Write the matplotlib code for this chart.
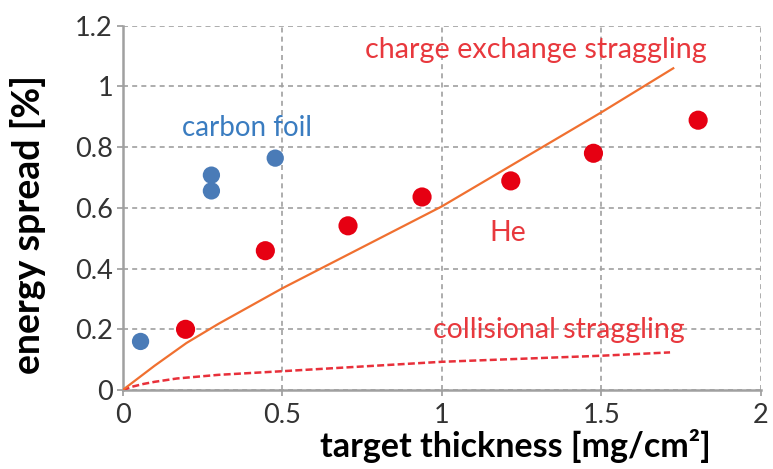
import matplotlib
matplotlib.use('Agg')
import matplotlib.pyplot as plt

plt.rcParams['font.family'] = ['Lato', 'DejaVu Sans']

# carbon foil measurements
carbon_x = [0.056, 0.278, 0.278, 0.478]
carbon_y = [0.160, 0.708, 0.656, 0.764]

# He gas target measurements
he_x = [0.197, 0.447, 0.706, 0.938, 1.216, 1.475, 1.803]
he_y = [0.200, 0.459, 0.541, 0.636, 0.689, 0.780, 0.889]

# charge exchange straggling (calc.)
cx_x = [0.0, 0.1, 0.2, 0.3, 0.5, 0.75, 1.0, 1.25, 1.5, 1.725]
cx_y = [0.0, 0.08, 0.155, 0.218, 0.335, 0.47, 0.605, 0.76, 0.915, 1.06]

# collisional straggling (calc.)
col_x = [0.0, 0.03, 0.065, 0.1, 0.17, 0.3, 0.5, 1.0, 1.5, 1.715]
col_y = [0.0, 0.011, 0.020, 0.027, 0.038, 0.050, 0.062, 0.093, 0.113, 0.124]

x_ticks = [0, 0.5, 1, 1.5, 2]
y_ticks = [0, 0.2, 0.4, 0.6, 0.8, 1.0, 1.2]
x_ticklabels = ['0', '0.5', '1', '1.5', '2']
y_ticklabels = ['0', '0.2', '0.4', '0.6', '0.8', '1', '1.2']

fig = plt.figure(figsize=(7.73, 4.69), dpi=100)
ax = fig.add_axes([0.1587, 0.1684, 0.8258, 0.7766])

ax.plot(col_x, col_y, color='#e8303a', linewidth=1.8, linestyle=(0, (2.8, 1.3)), zorder=3)
ax.plot(cx_x, cx_y, color='#f07030', linewidth=1.6, zorder=3)
ax.scatter(carbon_x, carbon_y, s=155, color='#4a7bb7', edgecolors='none', zorder=4)
ax.scatter(he_x, he_y, s=190, color='#e60012', edgecolors='none', zorder=4)

ax.set_xlim(0, 2)
ax.set_ylim(0, 1.2)
ax.set_xticks(x_ticks)
ax.set_xticklabels(x_ticklabels)
ax.set_yticks(y_ticks)
ax.set_yticklabels(y_ticklabels)
ax.tick_params(axis='both', labelsize=19.5, labelcolor='#333333', color='#999999',
               length=4, width=1.2, direction='out')
ax.tick_params(axis='x', pad=5)
ax.tick_params(axis='y', pad=3)

ax.grid(True, color='#a0a0a0', linestyle=(0, (3, 2.5)), linewidth=1.2)
ax.set_axisbelow(True)
for side in ['top', 'right']:
    ax.spines[side].set_visible(False)
for side in ['left', 'bottom']:
    ax.spines[side].set_color('#a0a0a0')
    ax.spines[side].set_linewidth(1.8)

ax.text(0.186, 0.863, 'carbon foil', color='#3a7cc0', fontsize=20, va='center', ha='left')
ax.text(0.759, 1.12, 'charge exchange straggling', color='#e8383d', fontsize=20.7,
        va='center', ha='left')
ax.text(1.207, 0.517, 'He', color='#e8383d', fontsize=20.5, va='center', ha='center')
ax.text(0.972, 0.198, 'collisional straggling', color='#e8383d', fontsize=20.5,
        va='center', ha='left')

fig.text(515 / 773, 1 - 446 / 469, 'target thickness [mg/cm²]', fontsize=24.5,
         fontweight='bold', ha='center', va='center', color='black')
fig.text(28 / 773, 1 - 225 / 469, 'energy spread [%]', fontsize=27, fontweight='bold',
         ha='center', va='center', rotation=90, color='black')

fig.savefig('out.png', dpi=100)
